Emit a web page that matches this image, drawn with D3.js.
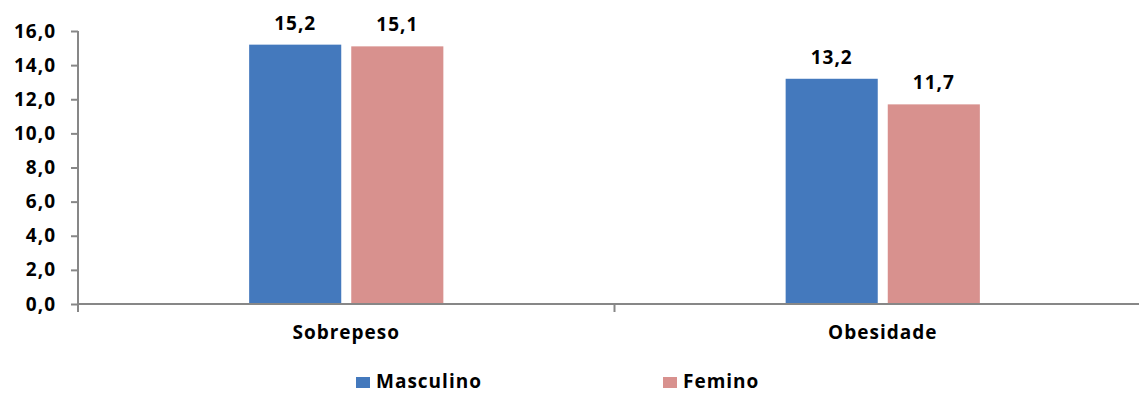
<!DOCTYPE html>
<html>
<head>
<meta charset="utf-8">
<script src="https://cdn.jsdelivr.net/npm/d3@7"></script>
<style>
  html, body { margin: 0; padding: 0; background: #fff; }
  svg { display: block; }
  text { font-family: "Open Sans", "Liberation Sans", sans-serif; font-weight: 700; fill: #000; letter-spacing: 1px; }
</style>
</head>
<body>
<svg id="chart" width="1139" height="394"></svg>
<script>
// Prevalence (%) by category and sex
const categories = ["Sobrepeso", "Obesidade"];
const seriesNames = ["Masculino", "Femino"];
const masculino = [15.2, 13.2];
const femino = [15.1, 11.7];
const yTicks = [0, 2, 4, 6, 8, 10, 12, 14, 16];
const colors = ["#4479BD", "#D8918E"];

const seriesValues = [masculino, femino];

const svg = d3.select("#chart");
const plot = { left: 78, right: 1151, top: 31, bottom: 304 };
const fontSize = "19px";

const ptLocale = d3.formatLocale({ decimal: ",", thousands: ".", grouping: [3], currency: ["R$", ""] });
const fmt = ptLocale.format(".1f");

const y = d3.scaleLinear().domain([0, 16]).range([plot.bottom, plot.top]);
const x0 = d3.scaleBand().domain(categories).range([plot.left, plot.right]).padding(0);
const bw = x0.bandwidth();
const x1 = d3.scaleBand().domain(seriesNames)
  .range([bw * 0.319, bw * 0.681]).paddingInner(0.098).paddingOuter(0);

const axisColor = "#878787";

// Bars
const groups = svg.append("g").selectAll("g")
  .data(categories)
  .join("g")
  .attr("transform", d => `translate(${x0(d)},0)`);

groups.selectAll("rect")
  .data((c, i) => seriesNames.map((s, j) => ({ s, j, v: seriesValues[j][i] })))
  .join("rect")
  .attr("x", d => x1(d.s))
  .attr("y", d => y(d.v))
  .attr("width", x1.bandwidth())
  .attr("height", d => y(0) - y(d.v))
  .attr("fill", d => colors[d.j]);

// Value labels
groups.selectAll("text.val")
  .data((c, i) => seriesNames.map((s, j) => ({ s, j, v: seriesValues[j][i] })))
  .join("text")
  .attr("class", "val")
  .attr("x", d => x1(d.s) + x1.bandwidth() / 2)
  .attr("y", d => y(d.v) - 15)
  .attr("text-anchor", "middle")
  .style("font-size", fontSize)
  .text(d => fmt(d.v));

// Y axis
const yAxis = svg.append("g")
  .attr("transform", `translate(${plot.left},0)`)
  .call(d3.axisLeft(y).tickValues(yTicks).tickFormat(fmt).tickSize(7).tickPadding(15));
yAxis.select(".domain").attr("stroke", axisColor).attr("stroke-width", 2)
  .attr("d", `M0,${plot.top}V${plot.bottom + 8}`);
yAxis.selectAll(".tick line").attr("stroke", axisColor).attr("stroke-width", 2);
yAxis.selectAll(".tick text").style("font-size", fontSize).attr("fill", "#000")
  .style("font-family", "'Open Sans', sans-serif").style("font-weight", 700);

// X axis: baseline, boundary ticks and category labels
const xAxis = svg.append("g")
  .attr("transform", `translate(0,${plot.bottom})`)
  .call(d3.axisBottom(x0).tickSize(0).tickPadding(22));
xAxis.select(".domain").attr("stroke", axisColor).attr("stroke-width", 2)
  .attr("d", `M${plot.left},0H${plot.right}`);
xAxis.selectAll(".tick text").style("font-size", fontSize).attr("fill", "#000")
  .style("font-family", "'Open Sans', sans-serif").style("font-weight", 700);

const bounds = categories.map(c => x0(c)).concat([plot.right]);
svg.append("g").selectAll("line")
  .data(bounds)
  .join("line")
  .attr("x1", d => d).attr("x2", d => d)
  .attr("y1", plot.bottom).attr("y2", plot.bottom + 8)
  .attr("stroke", axisColor).attr("stroke-width", 2);

// Legend
const legendX = [356, 663];
const legend = svg.append("g").selectAll("g")
  .data(seriesNames)
  .join("g")
  .attr("transform", (d, i) => `translate(${legendX[i]},377)`);
legend.append("rect")
  .attr("width", 14).attr("height", 11)
  .attr("fill", (d, i) => colors[i]);
legend.append("text")
  .attr("x", 20).attr("y", 11)
  .style("font-size", fontSize)
  .text(d => d);
</script>
</body>
</html>
